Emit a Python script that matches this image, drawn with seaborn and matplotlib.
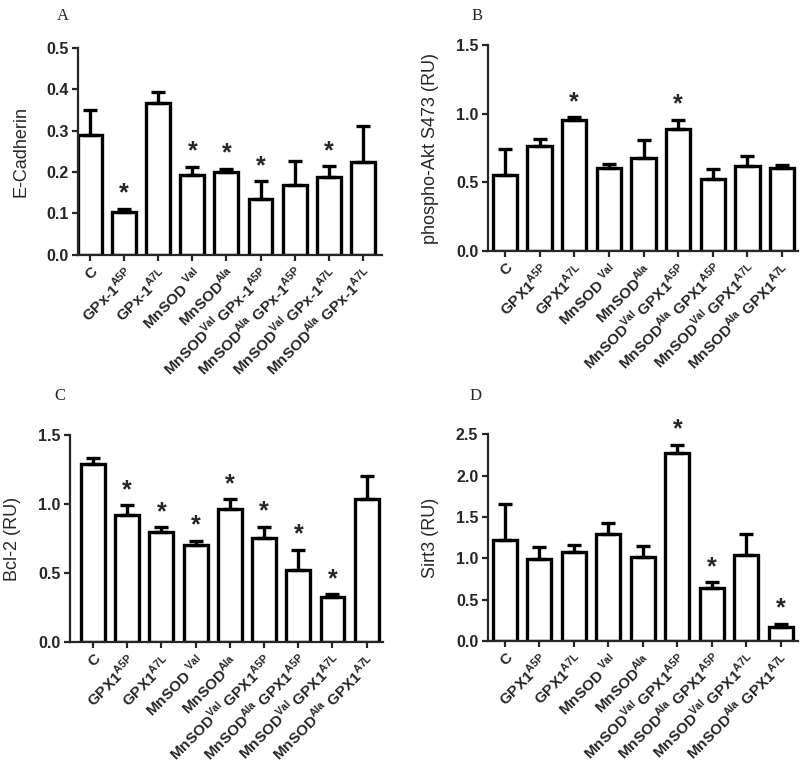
import matplotlib
matplotlib.use('Agg')
import matplotlib.pyplot as plt
import seaborn as sns
import numpy as np

# categories (x tick labels)
labels_a = ['C', 'GPx-1$^{\\mathbf{A5P}}$', 'GPx-1$^{\\mathbf{A7L}}$',
            'MnSOD $^{\\mathbf{Val}}$', 'MnSOD$^{\\mathbf{Ala}}$',
            'MnSOD$^{\\mathbf{Val}}$ GPx-1$^{\\mathbf{A5P}}$',
            'MnSOD$^{\\mathbf{Ala}}$ GPx-1$^{\\mathbf{A5P}}$',
            'MnSOD$^{\\mathbf{Val}}$ GPx-1$^{\\mathbf{A7L}}$',
            'MnSOD$^{\\mathbf{Ala}}$ GPx-1$^{\\mathbf{A7L}}$']
labels_b = ['C', 'GPX1$^{\\mathbf{A5P}}$', 'GPX1$^{\\mathbf{A7L}}$',
            'MnSOD $^{\\mathbf{Val}}$', 'MnSOD$^{\\mathbf{Ala}}$',
            'MnSOD$^{\\mathbf{Val}}$ GPX1$^{\\mathbf{A5P}}$',
            'MnSOD$^{\\mathbf{Ala}}$ GPX1$^{\\mathbf{A5P}}$',
            'MnSOD$^{\\mathbf{Val}}$ GPX1$^{\\mathbf{A7L}}$',
            'MnSOD$^{\\mathbf{Ala}}$ GPX1$^{\\mathbf{A7L}}$']

# A: E-Cadherin
ecad_mean = [0.29, 0.103, 0.367, 0.192, 0.200, 0.135, 0.170, 0.188, 0.225]
ecad_err = [0.060, 0.009, 0.026, 0.021, 0.008, 0.043, 0.058, 0.027, 0.087]
ecad_star = [1, 3, 4, 5, 7]

# B: phospho-Akt S473
akt_mean = [0.55, 0.765, 0.955, 0.605, 0.680, 0.885, 0.525, 0.620, 0.605]
akt_err = [0.195, 0.050, 0.020, 0.030, 0.130, 0.070, 0.075, 0.075, 0.025]
akt_star = [2, 5]

# C: Bcl-2
bcl_mean = [1.29, 0.92, 0.80, 0.70, 0.965, 0.75, 0.525, 0.325, 1.035]
bcl_err = [0.04, 0.07, 0.03, 0.035, 0.07, 0.085, 0.145, 0.02, 0.17]
bcl_star = [1, 2, 3, 4, 5, 6, 7]

# D: Sirt3
sirt_mean = [1.22, 0.99, 1.08, 1.29, 1.01, 2.27, 0.64, 1.04, 0.17]
sirt_err = [0.43, 0.14, 0.08, 0.14, 0.14, 0.10, 0.07, 0.25, 0.04]
sirt_star = [5, 6, 8]

sns.set_style('ticks')
plt.rcParams['font.family'] = ['Liberation Sans', 'DejaVu Sans']
plt.rcParams['mathtext.fontset'] = 'custom'
plt.rcParams['mathtext.bf'] = 'Liberation Sans:bold'
plt.rcParams['mathtext.rm'] = 'Liberation Sans'

fig = plt.figure(figsize=(8, 7.63), dpi=100)

panels = [
    ([0.0975, 0.666, 0.38, 0.271], labels_a, ecad_mean, ecad_err, ecad_star,
     'E-Cadherin', (0, 0.5), np.arange(0, 0.51, 0.1), (-0.35, 8.56), 'A', (0.078, 0.99)),
    ([0.61, 0.671, 0.3875, 0.270], labels_b, akt_mean, akt_err, akt_star,
     'phospho-Akt S473 (RU)', (0, 1.5), np.arange(0, 1.51, 0.5), (-0.49, 8.46), 'B', (0.596, 0.99)),
    ([0.0875, 0.1586, 0.391, 0.2713], labels_b, bcl_mean, bcl_err, bcl_star,
     'Bcl-2 (RU)', (0, 1.5), np.arange(0, 1.51, 0.5), (-0.67, 8.47), 'C', (0.075, 0.491)),
    ([0.61, 0.16, 0.3875, 0.271], labels_b, sirt_mean, sirt_err, sirt_star,
     'Sirt3 (RU)', (0, 2.5), np.arange(0, 2.51, 0.5), (-0.49, 8.50), 'D', (0.594, 0.491)),
]

for rect, labels, mean, err, stars, ylab, ylim, yticks, xlim, letter, lpos in panels:
    ax = fig.add_axes(rect)
    x = list(range(len(mean)))
    sns.barplot(x=x, y=mean, ax=ax, color='white', edgecolor='black',
                linewidth=2.4, width=0.7, errorbar=None)
    ax.errorbar(x, mean, yerr=[np.zeros(len(err)), err], fmt='none',
                ecolor='black', elinewidth=2.4, capsize=5, capthick=2.4, zorder=1)
    for i in stars:
        ax.text(i, mean[i] + err[i] + (ylim[1] * 0.015), '*', ha='center', va='bottom',
                fontsize=18, fontweight='bold')
    ax.set_ylim(*ylim)
    ax.set_xlim(*xlim)
    ax.set_yticks(yticks)
    ax.set_yticklabels([f'{t:.1f}' for t in yticks], fontsize=11.5, fontweight='bold')
    ax.set_xticks(x)
    ax.set_xticklabels(labels, rotation=45, ha='right', rotation_mode='anchor',
                       fontsize=11, fontweight='bold')
    ax.set_ylabel(ylab, fontsize=13, labelpad=12)
    ax.set_xlabel('')
    for s in ['top', 'right']:
        ax.spines[s].set_visible(False)
    for s in ['left', 'bottom']:
        ax.spines[s].set_linewidth(1.6)
    ax.tick_params(axis='both', width=1.6, length=4, pad=3)
    fig.text(lpos[0], lpos[1], letter, fontsize=12, family='Liberation Serif',
             ha='center', va='top')

fig.savefig('out.png', dpi=100)
